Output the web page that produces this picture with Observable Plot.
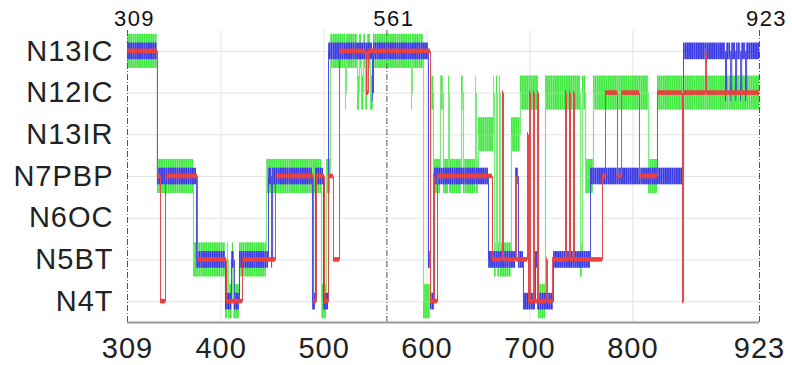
<!DOCTYPE html>
<html><head><meta charset="utf-8">
<script src="https://cdn.jsdelivr.net/npm/d3@7"></script>
<script src="https://cdn.jsdelivr.net/npm/@observablehq/plot@0.6"></script>
<style>
body{margin:0;background:#fff;}
svg text{font-family:"Liberation Sans",Arial,sans-serif;}
g[font-size="29"] text{letter-spacing:1px;}
g[font-size="22"] text{letter-spacing:1.5px;}
</style></head><body><div id="chart"></div>
<script>
const categories = ["N4T","N5BT","N6OC","N7PBP","N13IR","N12IC","N13IC"];
const xTicks = [309,400,500,600,700,800,923];
const gridX = [400,500,600,700,800];
const markerLines = [309,561,923];
const xEnd = 923;

const greenX = [309,338.1,373.1,404.2,406.2,407.1,411,412,417.8,444,497.5,502.3,506.2,520.8,521.8,532.5,534.4,536.3,538.3,540.2,542.2,545.1,548,584.9,585.9,596.6,603.4,606.3,613.1,616,620.9,621.8,633.5,635.4,647.1,648.1,650,664.6,665.6,667.5,668.5,670.4,671.4,682,690.8,708.3,715.1,749.1,751,754,761.7,815.2,823.9];
const greenState = ["N13IC","N7PBP","N5BT","N4T","N5BT","N4T","N5BT","N4T","N5BT","N7PBP","N4T","N7PBP","N13IC","N12IC","N13IC","N12IC","N13IC","N12IC","N13IC","N12IC","N13IC","N12IC","N13IC","N12IC","N13IC","N4T","N12IC","N7PBP","N12IC","N7PBP","N12IC","N7PBP","N12IC","N7PBP","N12IC","N7PBP","N13IR","N12IC","N5BT","N12IC","N5BT","N12IC","N5BT","N13IR","N12IC","N4T","N12IC","N5BT","N12IC","N7PBP","N12IC","N7PBP","N12IC"];

const blueX = [309,338.1,376,404.2,410,412.9,417.8,446,449,450,488.7,491.6,499.4,504.3,547,548,601.4,603.4,607.3,659.7,686,688.9,693.7,705.4,707.3,722.9,758.8,849.2,890,891,895,896,899.8,900.8,904.7,905.7,909.5,910.5];
const blueState = ["N13IC","N7PBP","N5BT","N4T","N5BT","N4T","N5BT","N7PBP","N5BT","N7PBP","N4T","N7PBP","N4T","N13IC","N12IC","N13IC","N5BT","N4T","N7PBP","N5BT","N7PBP","N5BT","N4T","N5BT","N4T","N5BT","N7PBP","N13IC","N12IC","N13IC","N12IC","N13IC","N12IC","N13IC","N12IC","N13IC","N12IC","N13IC"];

const redX = [309,338.1,341.1,345.9,377,405.2,420.7,452.8,489.7,492.6,500.4,504.3,509.1,515,541.2,543.1,603.4,606.3,607.3,610.2,663.6,673.3,674.3,686,687,697.6,698.6,699.6,700.6,703.4,704.4,707.3,708.3,716,717,722,734.5,735.5,738.4,739.4,742.3,743.3,770.5,773.4,785,789,806.4,823.9,848.2,849.2,870.6,871.6];
const redState = ["N13IC","N7PBP","N4T","N7PBP","N5BT","N4T","N5BT","N7PBP","N4T","N7PBP","N4T","N7PBP","N5BT","N13IC","N12IC","N13IC","N4T","N7PBP","N4T","N7PBP","N5BT","N12IC","N5BT","N7PBP","N5BT","N13IR","N4T","N12IC","N4T","N12IC","N4T","N12IC","N4T","N5BT","N4T","N5BT","N12IC","N5BT","N12IC","N5BT","N12IC","N5BT","N7PBP","N12IC","N7PBP","N12IC","N7PBP","N12IC","N4T","N12IC","N13IC","N12IC"];

function segs(xs, st) {
  return xs.map((x, i) => ({x1: x, x2: i < xs.length - 1 ? xs[i + 1] : xEnd, y: categories.indexOf(st[i])}));
}
function pts(xs, st) {
  const p = xs.map((x, i) => ({x, y: categories.indexOf(st[i])}));
  p.push({x: xEnd, y: p[p.length - 1].y});
  return p;
}
const gS = segs(greenX, greenState), bS = segs(blueX, blueState), rS = segs(redX, redState);
const gP = pts(greenX, greenState), bP = pts(blueX, blueState), rP = pts(redX, redState);

const chart = Plot.plot({
  width: 792, height: 365,
  marginLeft: 127, marginRight: 33, marginTop: 30, marginBottom: 43,
  x: {domain: [309, 923], axis: null},
  y: {domain: [-0.5, 6.5], axis: null},
  marks: [
    Plot.ruleY(d3.range(categories.length), {stroke: "#e4e4e4", strokeWidth: 1}),
    Plot.ruleX(gridX, {stroke: "#e4e4e4", strokeWidth: 1}),
    Plot.rect(gS, {x1: "x1", x2: "x2", y1: d => d.y - 0.41, y2: d => d.y + 0.41, fill: "#4fe84f"}),
    Plot.line(gP, {x: "x", y: "y", curve: "step-after", stroke: "#7fe87f", strokeWidth: 1.2}),
    Plot.rect(bS, {x1: "x1", x2: "x2", y1: d => d.y - 0.2, y2: d => d.y + 0.2, fill: "#5252e6"}),
    Plot.line(bP, {x: "x", y: "y", curve: "step-after", stroke: "#4a4ae0", strokeWidth: 1}),
    Plot.line(rP, {x: "x", y: "y", curve: "step-after", stroke: "#e04848", strokeWidth: 1}),
    Plot.rect(rS, {x1: "x1", x2: "x2", y1: d => d.y - 0.055, y2: d => d.y + 0.055, fill: "#ea4040"}),
    Plot.ruleX(markerLines, {stroke: "#555", strokeWidth: 1, strokeDasharray: "6,2,1,2"}),
    Plot.ruleY([-0.5], {stroke: "#999", strokeWidth: 2}),
    Plot.text(categories, {x: 309, y: (d, i) => i, text: d => d, textAnchor: "end", dx: -14, fontSize: 29, fill: "#222"}),
    Plot.text(xTicks, {x: d => d, y: -0.5, text: d => String(d), dy: 26, fontSize: 29, fill: "#222"}),
    Plot.text(markerLines, {x: d => d, y: 6.5, text: d => String(d), dy: -12, dx: 7, fontSize: 22, fill: "#111"})
  ]
});
// striped texture for the bands
const svg = d3.select(chart);
const defs = svg.insert("defs", ":first-child");
function stripes(id, base, stripe) {
  const p = defs.append("pattern").attr("id", id).attr("patternUnits", "userSpaceOnUse")
    .attr("width", 2.2).attr("height", 10);
  p.append("rect").attr("width", 2.2).attr("height", 10).attr("fill", base);
  p.append("rect").attr("width", 0.8).attr("height", 10).attr("fill", stripe);
}
stripes("gpat", "#3fe83f", "#8af08a");
stripes("bpat", "#3636e2", "#7a7aee");
svg.selectAll('g[fill="#4fe84f"]').attr("fill", "url(#gpat)");
svg.selectAll('g[fill="#5252e6"]').attr("fill", "url(#bpat)");
document.getElementById("chart").appendChild(chart);
</script>
</body></html>
